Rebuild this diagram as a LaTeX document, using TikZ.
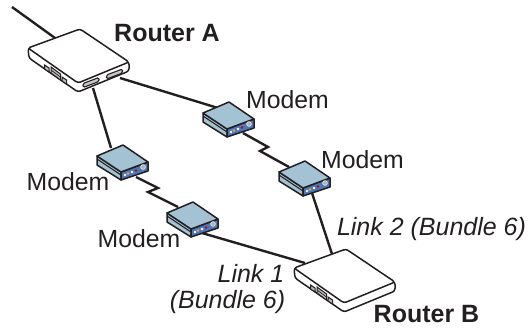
\documentclass[tikz,border=0pt]{standalone}
\usepackage{fontspec}
\setmainfont{Liberation Sans}
\definecolor{lk}{HTML}{231F20}
\definecolor{mtop}{HTML}{A3C2D3}
\definecolor{mfront}{HTML}{4B76B8}
\tikzset{
  x=1pt,y=-1pt,
  wire/.style={draw=lk,line width=2.4pt},
  edgeline/.style={draw=lk,line width=1.5pt,line join=round},
  lbl/.style={inner sep=0pt,text=lk,font=\fontsize{24.8}{28}\selectfont},
  lblb/.style={inner sep=0pt,text=lk,font=\fontsize{25}{28}\selectfont\bfseries},
  lbli/.style={inner sep=0pt,text=lk,font=\fontsize{25}{28}\selectfont\itshape},
  modem/.pic={
    \path[edgeline,fill=mtop] (-26,11)--(-2,27)--(-2,35)--(-26,20)--cycle;
    \path[edgeline,fill=mfront] (-2,27)--(25,17)--(25,26)--(-2,35)--cycle;
    \path[edgeline,fill=mtop] (0,0)--(-26,11)--(-2,27)--(25,17)--cycle;
    \draw[lk,line width=1pt] (-26,14)--(-2,30);
    \foreach \px/\py/\c in {2/30/white,5/28.5/orange!70!white,9/27/white,13/25.5/red!80!black}
      \fill[\c] (\px,\py) circle (1.4);
    \fill[gray!60,draw=white,line width=0.5pt] (20,22) circle (2.4);
  },
  routerbody/.pic={
    \path[edgeline,fill=white,rounded corners=2.5pt] (-52,19)--(-51,29)--(-2,63)--(49,42)--(49,33)--cycle;
    \path[edgeline,fill=white,rounded corners=2.5pt] (0,0)--(-52,19)--(-2,54)--(49,33)--cycle;
    \draw[lk,line width=1pt,fill=white!70!lk] (-35.5,36)--(-31,39)--(-31,43)--(-35.5,40)--cycle;
    \draw[lk,line width=1pt,fill=white!70!lk] (-18,48)--(-13.5,51)--(-13.5,55)--(-18,52)--cycle;
    \draw[lk,line width=1pt,fill=white!70!lk] (-29,38)--(-19.5,45)--(-19.5,51)--(-29,44)--cycle;
    \draw[lk,line width=0.7pt] (-29,41)--(-19.5,48);
  },
}
\begin{document}
\begin{tikzpicture}
\useasboundingbox (0,0) rectangle (528,327);
% connection points
\coordinate (up) at (12,7);
\coordinate (upin) at (55,38);
\coordinate (aR) at (120,78);
\coordinate (aD) at (93,88);
\coordinate (m1in) at (218,108);
\coordinate (m1out) at (243,133);
\coordinate (z1a) at (268,147);
\coordinate (z1b) at (260,151);
\coordinate (m2in) at (289,167);
\coordinate (m2out) at (312,193);
\coordinate (bT) at (332,254);
\coordinate (m3in) at (111,148);
\coordinate (m3out) at (136,177);
\coordinate (z2a) at (158,188);
\coordinate (z2b) at (148,192);
\coordinate (m4in) at (178,207);
\coordinate (m4out) at (202,233);
\coordinate (bL) at (305,263);
% wires
\draw[wire] (up)--(upin);
\draw[wire] (aR)--(m1in);
\draw[wire] (aD)--(m3in);
\draw[wire,line join=miter] (m1out)--(z1a)--(z1b)--(m2in);
\draw[wire] (m2out)--(bT);
\draw[wire,line join=miter] (m3out)--(z2a)--(z2b)--(m4in);
\draw[wire] (m4out)--(bL);
% routers
\pic at (80,29) {routerbody};
\pic at (346,249) {routerbody};
\foreach \sx/\sy in {91/82.5,114.5/74}
  \draw[lk,line width=1.1pt,fill=white!75!lk,rounded corners=1.5pt,shift={(\sx,\sy)}] (-8,1)--(8,-5)--(8,-1)--(-8,5)--cycle;
% modems
\pic at (229,102) {modem};
\pic at (305,161) {modem};
\pic at (123,145) {modem};
\pic at (193,202) {modem};
% labels
\node[lblb] (ra) at (167,33) {Router A};
\node[lblb] (rb) at (426.5,314) {Router B};
\node[lbl] (l1) at (287.5,100) {Modem};
\node[lbl] (l2) at (362.5,160) {Modem};
\node[lbl] (l3) at (68,182) {Modem};
\node[lbl] (l4) at (139,239) {Modem};
\node[lbli] (l5) at (431.5,229) {Link 2 (Bundle 6)};
\node[lbli] (l6) at (251,273) {Link 1};
\node[lbli] (l7) at (227.5,302) {(Bundle 6)};
\end{tikzpicture}
\end{document}
